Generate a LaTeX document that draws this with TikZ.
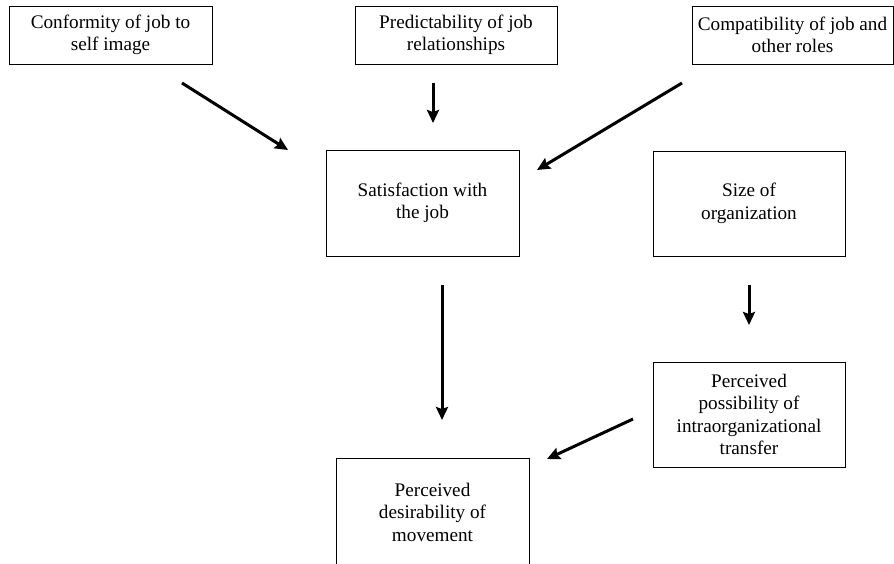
\documentclass[tikz,border=0pt]{standalone}
\usepackage{fontspec}
\setmainfont{Liberation Serif}
\usetikzlibrary{arrows.meta}
\begin{document}
\begin{tikzpicture}[x=1pt,y=-1pt,
  box/.style={draw,line width=1pt,inner sep=0pt,align=center,
    font=\fontsize{19.2}{22.5}\selectfont},
  arr/.style={line width=3pt,-{Stealth[length=13pt,width=12pt,inset=2pt]}}]
\useasboundingbox (0,0) rectangle (894,563);
\node[box,minimum width=203pt,minimum height=58pt] (conf) at (110.5,35) {Conformity of job to\\self image};
\node[box,minimum width=202pt,minimum height=58pt] (pred) at (456,35) {Predictability of job\\relationships};
\node[box,minimum width=201pt,minimum height=58pt] (comp) at (792.5,35) {Compatibility of job and\\other roles};
\node[box,minimum width=193pt,minimum height=106pt] (sat) at (422.5,203) {Satisfaction with\\the job};
\node[box,minimum width=192pt,minimum height=105pt] (size) at (749,203.5) {Size of\\organization};
\node[box,minimum width=192pt,minimum height=105pt] (poss) at (749,414.5) {Perceived\\possibility of\\intraorganizational\\transfer};
\node[box,minimum width=193pt,minimum height=108pt] (des) at (432.5,512) {Perceived\\desirability of\\movement};
\coordinate (a1s) at (182,83); \coordinate (a1e) at (288,150);
\coordinate (a2s) at (433,83); \coordinate (a2e) at (433,123);
\coordinate (a3s) at (682,83); \coordinate (a3e) at (537,170);
\coordinate (a4s) at (442,285); \coordinate (a4e) at (442,420);
\coordinate (a5s) at (749,285); \coordinate (a5e) at (749,325);
\coordinate (a6s) at (633,419); \coordinate (a6e) at (547,459);
\draw[arr] (a1s) -- (a1e);
\draw[arr] (a2s) -- (a2e);
\draw[arr] (a3s) -- (a3e);
\draw[arr] (a4s) -- (a4e);
\draw[arr] (a5s) -- (a5e);
\draw[arr] (a6s) -- (a6e);
\end{tikzpicture}
\end{document}
